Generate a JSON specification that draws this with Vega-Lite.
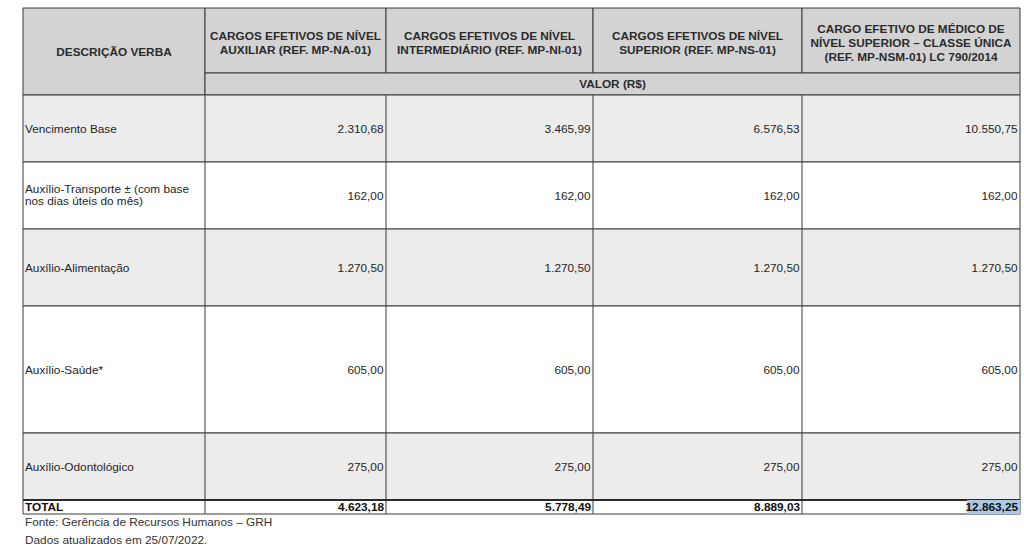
{
  "$schema": "https://vega.github.io/schema/vega-lite/v6.json",
  "width": 1024,
  "height": 555,
  "autosize": {"type": "fit", "contains": "padding"},
  "padding": 0,
  "background": "#ffffff",
  "config": {
    "view": {"stroke": null},
    "locale": {"number": {"decimal": ",", "thousands": ".", "grouping": [3], "currency": ["R$", ""]}},
    "text": {"font": "Liberation Sans", "fontSize": 11.8, "color": "#262626"}
  },
  "datasets": {
    "cols": [
      {"col": "DESCRIÇÃO VERBA", "x1": 23, "x2": 205},
      {"col": "NA", "x1": 205, "x2": 386},
      {"col": "NI", "x1": 386, "x2": 593},
      {"col": "NS", "x1": 593, "x2": 802},
      {"col": "NSM", "x1": 802, "x2": 1020}
    ],
    "header": [
      {"label": "DESCRIÇÃO VERBA", "x1": 23, "x2": 205, "y1": 8, "y2": 95},
      {"label": "CARGOS EFETIVOS DE NÍVEL\nAUXILIAR (REF. MP-NA-01)", "x1": 205, "x2": 386, "y1": 8, "y2": 73},
      {"label": "CARGOS EFETIVOS DE NÍVEL\nINTERMEDIÁRIO (REF. MP-NI-01)", "x1": 386, "x2": 593, "y1": 8, "y2": 73},
      {"label": "CARGOS EFETIVOS DE NÍVEL\nSUPERIOR (REF. MP-NS-01)", "x1": 593, "x2": 802, "y1": 8, "y2": 73},
      {"label": "CARGO EFETIVO DE MÉDICO DE\nNÍVEL SUPERIOR – CLASSE ÚNICA\n(REF. MP-NSM-01) LC 790/2014", "x1": 802, "x2": 1020, "y1": 8, "y2": 73},
      {"label": "VALOR (R$)", "x1": 205, "x2": 1020, "y1": 73, "y2": 95}
    ],
    "rows": [
      {"item": "Vencimento Base", "n": 1, "y1": 95, "y2": 162},
      {"item": "Auxílio-Transporte ± (com base\nnos dias úteis do mês)", "n": 2, "y1": 162, "y2": 229},
      {"item": "Auxílio-Alimentação", "n": 3, "y1": 229, "y2": 306},
      {"item": "Auxílio-Saúde*", "n": 4, "y1": 306, "y2": 433},
      {"item": "Auxílio-Odontológico", "n": 5, "y1": 433, "y2": 500},
      {"item": "TOTAL", "n": 6, "y1": 500, "y2": 514}
    ],
    "values": [
      {"item": "Vencimento Base", "col": "NA", "value": 2310.68},
      {"item": "Vencimento Base", "col": "NI", "value": 3465.99},
      {"item": "Vencimento Base", "col": "NS", "value": 6576.53},
      {"item": "Vencimento Base", "col": "NSM", "value": 10550.75},
      {"item": "Auxílio-Transporte ± (com base\nnos dias úteis do mês)", "col": "NA", "value": 162},
      {"item": "Auxílio-Transporte ± (com base\nnos dias úteis do mês)", "col": "NI", "value": 162},
      {"item": "Auxílio-Transporte ± (com base\nnos dias úteis do mês)", "col": "NS", "value": 162},
      {"item": "Auxílio-Transporte ± (com base\nnos dias úteis do mês)", "col": "NSM", "value": 162},
      {"item": "Auxílio-Alimentação", "col": "NA", "value": 1270.5},
      {"item": "Auxílio-Alimentação", "col": "NI", "value": 1270.5},
      {"item": "Auxílio-Alimentação", "col": "NS", "value": 1270.5},
      {"item": "Auxílio-Alimentação", "col": "NSM", "value": 1270.5},
      {"item": "Auxílio-Saúde*", "col": "NA", "value": 605},
      {"item": "Auxílio-Saúde*", "col": "NI", "value": 605},
      {"item": "Auxílio-Saúde*", "col": "NS", "value": 605},
      {"item": "Auxílio-Saúde*", "col": "NSM", "value": 605},
      {"item": "Auxílio-Odontológico", "col": "NA", "value": 275},
      {"item": "Auxílio-Odontológico", "col": "NI", "value": 275},
      {"item": "Auxílio-Odontológico", "col": "NS", "value": 275},
      {"item": "Auxílio-Odontológico", "col": "NSM", "value": 275},
      {"item": "TOTAL", "col": "NA", "value": 4623.18},
      {"item": "TOTAL", "col": "NI", "value": 5778.49},
      {"item": "TOTAL", "col": "NS", "value": 8889.03},
      {"item": "TOTAL", "col": "NSM", "value": 12863.25}
    ],
    "notes": [
      {"note": "Fonte: Gerência de Recursos Humanos – GRH\nDados atualizados em 25/07/2022."}
    ]
  },
  "layer": [
    {
      "data": {"name": "header"},
      "mark": {"type": "rect", "fill": "#d3d3d3", "stroke": "#3a3a3a", "strokeWidth": 1},
      "encoding": {
        "x": {"field": "x1", "type": "quantitative", "scale": {"domain": [0, 1024], "nice": false, "zero": false}, "axis": null},
        "x2": {"field": "x2"},
        "y": {"field": "y1", "type": "quantitative", "scale": {"domain": [0, 555], "nice": false, "zero": false, "reverse": true}, "axis": null},
        "y2": {"field": "y2"}
      }
    },
    {
      "data": {"name": "rows"},
      "mark": {"type": "rect", "stroke": "#3a3a3a", "strokeWidth": 1},
      "encoding": {
        "x": {"datum": 23, "type": "quantitative"},
        "x2": {"datum": 1020},
        "y": {"field": "y1", "type": "quantitative"},
        "y2": {"field": "y2"},
        "fill": {"condition": {"test": "datum.n % 2 == 1", "value": "#ececec"}, "value": "#ffffff"}
      }
    },
    {
      "data": {"name": "cols"},
      "transform": [{"filter": "datum.col != 'NSM'"}],
      "mark": {"type": "rule", "stroke": "#3a3a3a", "strokeWidth": 1},
      "encoding": {
        "x": {"field": "x2", "type": "quantitative"},
        "y": {"datum": 95, "type": "quantitative"},
        "y2": {"datum": 514}
      }
    },
    {
      "data": {"name": "rows"},
      "transform": [{"filter": "datum.item == 'TOTAL'"}],
      "mark": {"type": "rule", "stroke": "#2a2a2a", "strokeWidth": 2},
      "encoding": {
        "x": {"datum": 23, "type": "quantitative"},
        "x2": {"datum": 1020},
        "y": {"field": "y1", "type": "quantitative"}
      }
    },
    {
      "data": {"name": "values"},
      "transform": [
        {"filter": "datum.item == 'TOTAL' && datum.col == 'NSM'"},
        {"lookup": "col", "from": {"data": {"name": "cols"}, "key": "col", "fields": ["x2"]}},
        {"lookup": "item", "from": {"data": {"name": "rows"}, "key": "item", "fields": ["y1", "y2"]}},
        {"calculate": "datum.x2 - 53", "as": "hx"}
      ],
      "mark": {"type": "rect", "fill": "#a9c9e7"},
      "encoding": {
        "x": {"field": "hx", "type": "quantitative"},
        "x2": {"field": "x2"},
        "y": {"field": "y1", "type": "quantitative"},
        "y2": {"field": "y2"}
      }
    },
    {
      "data": {"name": "header"},
      "transform": [
        {"calculate": "(datum.x1 + datum.x2) / 2", "as": "cx"},
        {"calculate": "(datum.y1 + datum.y2) / 2 + (datum.y2 == 73 ? 2.8 : 0) - (length(split(datum.label, '\\n')) - 1) * 7", "as": "cy"}
      ],
      "mark": {"type": "text", "fontWeight": "bold", "align": "center", "baseline": "middle", "lineBreak": "\n", "lineHeight": 14, "color": "#2b2b2b"},
      "encoding": {
        "x": {"field": "cx", "type": "quantitative"},
        "y": {"field": "cy", "type": "quantitative"},
        "text": {"field": "label", "type": "nominal"}
      }
    },
    {
      "data": {"name": "rows"},
      "transform": [
        {"filter": "datum.item != 'TOTAL'"},
        {"calculate": "(datum.y1 + datum.y2) / 2 - (length(split(datum.item, '\\n')) - 1) * 6.8", "as": "cy"}
      ],
      "mark": {"type": "text", "align": "left", "baseline": "middle", "lineBreak": "\n", "lineHeight": 12.8},
      "encoding": {
        "x": {"datum": 25, "type": "quantitative"},
        "y": {"field": "cy", "type": "quantitative"},
        "text": {"field": "item", "type": "nominal"}
      }
    },
    {
      "data": {"name": "rows"},
      "transform": [
        {"filter": "datum.item == 'TOTAL'"},
        {"calculate": "(datum.y1 + datum.y2) / 2", "as": "cy"}
      ],
      "mark": {"type": "text", "align": "left", "baseline": "middle", "fontWeight": "bold", "color": "#111111"},
      "encoding": {
        "x": {"datum": 25, "type": "quantitative"},
        "y": {"field": "cy", "type": "quantitative"},
        "text": {"field": "item", "type": "nominal"}
      }
    },
    {
      "data": {"name": "values"},
      "transform": [
        {"filter": "datum.item != 'TOTAL'"},
        {"lookup": "col", "from": {"data": {"name": "cols"}, "key": "col", "fields": ["x2"]}},
        {"lookup": "item", "from": {"data": {"name": "rows"}, "key": "item", "fields": ["y1", "y2"]}},
        {"calculate": "(datum.y1 + datum.y2) / 2", "as": "cy"},
        {"calculate": "datum.x2 - 2.5", "as": "tx"}
      ],
      "mark": {"type": "text", "align": "right", "baseline": "middle"},
      "encoding": {
        "x": {"field": "tx", "type": "quantitative"},
        "y": {"field": "cy", "type": "quantitative"},
        "text": {"field": "value", "type": "quantitative", "format": ",.2f"}
      }
    },
    {
      "data": {"name": "values"},
      "transform": [
        {"filter": "datum.item == 'TOTAL'"},
        {"lookup": "col", "from": {"data": {"name": "cols"}, "key": "col", "fields": ["x2"]}},
        {"lookup": "item", "from": {"data": {"name": "rows"}, "key": "item", "fields": ["y1", "y2"]}},
        {"calculate": "(datum.y1 + datum.y2) / 2", "as": "cy"},
        {"calculate": "datum.x2 - 2", "as": "tx"}
      ],
      "mark": {"type": "text", "align": "right", "baseline": "middle", "fontWeight": "bold", "color": "#111111"},
      "encoding": {
        "x": {"field": "tx", "type": "quantitative"},
        "y": {"field": "cy", "type": "quantitative"},
        "text": {"field": "value", "type": "quantitative", "format": ",.2f"}
      }
    },
    {
      "data": {"name": "notes"},
      "mark": {"type": "text", "align": "left", "baseline": "middle", "lineBreak": "\n", "lineHeight": 18, "color": "#333333"},
      "encoding": {
        "x": {"datum": 25, "type": "quantitative"},
        "y": {"datum": 522, "type": "quantitative"},
        "text": {"field": "note", "type": "nominal"}
      }
    }
  ]
}
